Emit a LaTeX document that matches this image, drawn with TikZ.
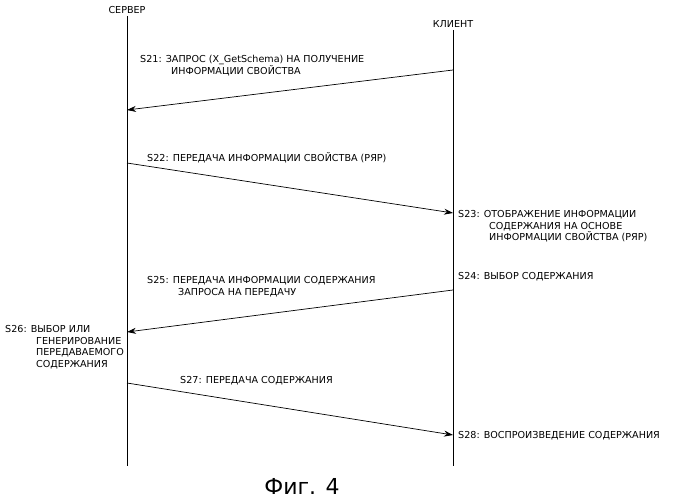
\documentclass[tikz,border=0pt]{standalone}
\usepackage{fontspec}
\setmainfont{DejaVu Sans}
\usetikzlibrary{positioning, arrows.meta}
\tikzstyle{lbl} = [inner sep=0pt, align=left, font=\fontsize{9.6}{11.8}\selectfont]
\tikzstyle{arrow} = [line width=0.7pt, -{Stealth[length=9pt,width=6pt]}]
\tikzstyle{life} = [line width=0.8pt]

\begin{document}
\begin{tikzpicture}[x=1pt, y=-1pt]
\useasboundingbox (0,0) rectangle (677,500);
% lifelines
\coordinate (srvTop) at (127,16);
\coordinate (srvBot) at (127,466);
\coordinate (cliTop) at (453,30);
\coordinate (cliBot) at (453,466);
\node (server) [lbl, above=2pt of srvTop] {СЕРВЕР};
\node (client) [lbl, above=2pt of cliTop] {КЛИЕНТ};
\draw [life] (srvTop) -- (srvBot);
\draw [life] (cliTop) -- (cliBot);
% message points
\coordinate (m1a) at (453,70);  \coordinate (m1b) at (127,110);
\coordinate (m2a) at (127,163); \coordinate (m2b) at (453,213);
\coordinate (m3a) at (453,290); \coordinate (m3b) at (127,332);
\coordinate (m4a) at (127,383); \coordinate (m4b) at (453,435);
\draw [arrow] (m1a) -- (m1b);
\draw [arrow] (m2a) -- (m2b);
\draw [arrow] (m3a) -- (m3b);
\draw [arrow] (m4a) -- (m4b);
% labels
\node (s21) [lbl, anchor=north west] at (140,55) {S21: ЗАПРОС (X\_GetSchema) НА ПОЛУЧЕНИЕ\\\hspace{31pt}ИНФОРМАЦИИ СВОЙСТВА};
\node (s22) [lbl, anchor=north west] at (147,152) {S22: ПЕРЕДАЧА ИНФОРМАЦИИ СВОЙСТВА (РЯР)};
\node (s23) [lbl, anchor=north west] at (458,210) {S23: ОТОБРАЖЕНИЕ ИНФОРМАЦИИ\\\hspace{31pt}СОДЕРЖАНИЯ НА ОСНОВЕ\\\hspace{31pt}ИНФОРМАЦИИ СВОЙСТВА (РЯР)};
\node (s24) [lbl, anchor=north west] at (458,272) {S24: ВЫБОР СОДЕРЖАНИЯ};
\node (s25) [lbl, anchor=north west] at (147,276) {S25: ПЕРЕДАЧА ИНФОРМАЦИИ СОДЕРЖАНИЯ\\\hspace{31pt}ЗАПРОСА НА ПЕРЕДАЧУ};
\node (s26) [lbl, anchor=north west] at (5,325) {S26: ВЫБОР ИЛИ\\\hspace{31pt}ГЕНЕРИРОВАНИЕ\\\hspace{31pt}ПЕРЕДАВАЕМОГО\\\hspace{31pt}СОДЕРЖАНИЯ};
\node (s27) [lbl, anchor=north west] at (180,376) {S27: ПЕРЕДАЧА СОДЕРЖАНИЯ};
\node (s28) [lbl, anchor=north west] at (458,431) {S28: ВОСПРОИЗВЕДЕНИЕ СОДЕРЖАНИЯ};
\node (caption) [font=\fontsize{22}{26}\selectfont] at (302,486) {Фиг. 4};
\end{tikzpicture}
\end{document}
